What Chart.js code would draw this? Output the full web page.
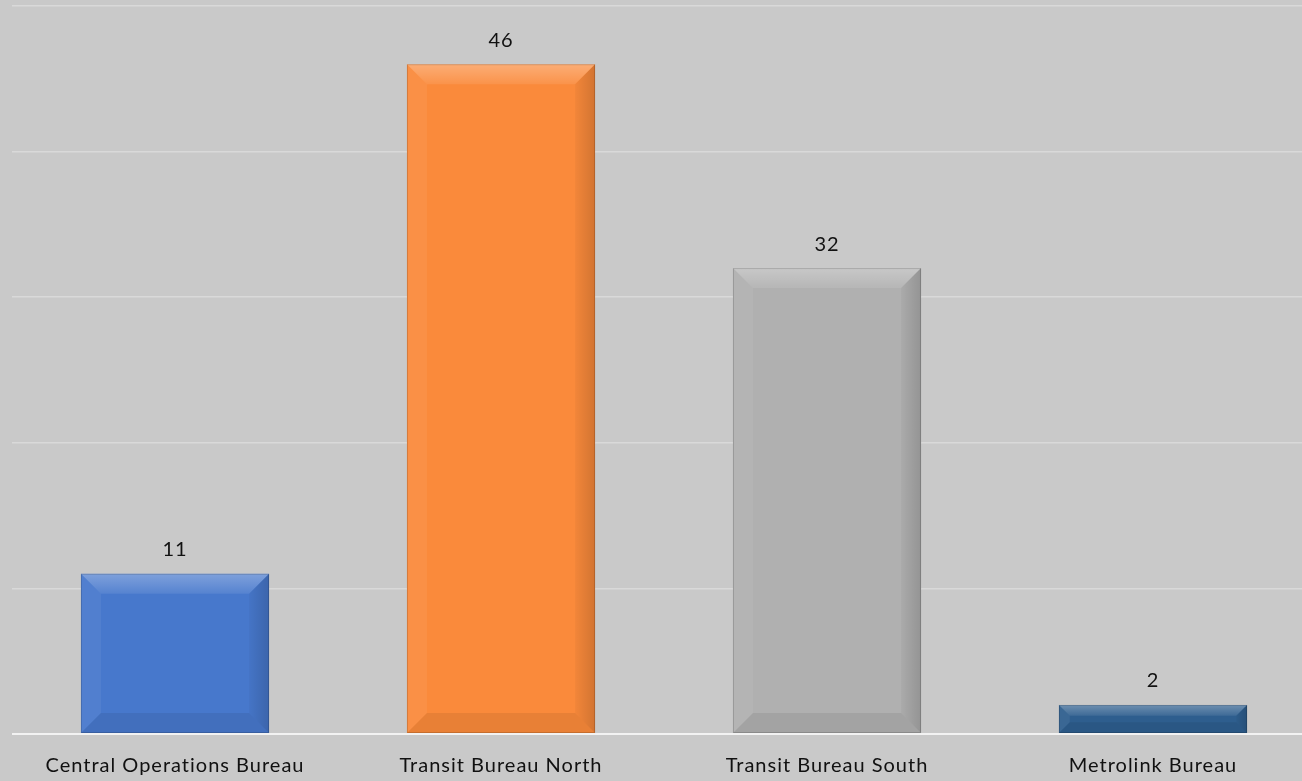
<!DOCTYPE html>
<html lang="en">
<head>
    <meta charset="UTF-8">
    <title>Bureau Counts</title>
    <script src="https://cdn.jsdelivr.net/npm/chart.js"></script>
    <style>
        html, body { margin: 0; padding: 0; background: #c9c9c9; overflow: hidden; }
        .wrap { width: 1316px; height: 781px; position: relative; }
    </style>
</head>
<body>
    <div class="wrap"><canvas id="bureauChart"></canvas></div>

    <script>
        const bureaus = ["Central Operations Bureau", "Transit Bureau North", "Transit Bureau South", "Metrolink Bureau"];
        const counts = [11, 46, 32, 2];
        const barColors = ["#4778cc", "#fa8a3b", "#b0b0b0", "#2e5e8e"];

        // bevelled look + value labels on top
        const bevelPlugin = {
            id: "bevel",
            beforeDraw(chart) {
                chart.ctx.letterSpacing = "1px";  // the original text is a bit wider
            },
            afterDatasetsDraw(chart) {
                const ctx = chart.ctx;
                const meta = chart.getDatasetMeta(0);
                meta.data.forEach(function (bar, i) {
                    const l = bar.x - bar.width / 2, r = bar.x + bar.width / 2;
                    const t = bar.y, b = bar.base;
                    const bv = Math.min(20, (b - t) / 2.6);
                    function poly(pts, fill) {
                        ctx.beginPath();
                        ctx.moveTo(pts[0][0], pts[0][1]);
                        for (let k = 1; k < pts.length; k++) ctx.lineTo(pts[k][0], pts[k][1]);
                        ctx.closePath();
                        ctx.fillStyle = fill;
                        ctx.fill();
                    }
                    ctx.save();
                    const topGrad = ctx.createLinearGradient(0, t, 0, t + bv);
                    topGrad.addColorStop(0, "rgba(255,255,255,0.30)");
                    topGrad.addColorStop(1, "rgba(255,255,255,0.08)");
                    poly([[l, t], [r, t], [r - bv, t + bv], [l + bv, t + bv]], topGrad);
                    poly([[l, t], [l + bv, t + bv], [l + bv, b - bv], [l, b]], "rgba(255,255,255,0.06)");
                    const rGrad = ctx.createLinearGradient(r - bv, 0, r, 0);
                    rGrad.addColorStop(0, "rgba(0,0,0,0.03)");
                    rGrad.addColorStop(1, "rgba(0,0,0,0.16)");
                    poly([[r, t], [r - bv, t + bv], [r - bv, b - bv], [r, b]], rGrad);
                    poly([[l, b], [l + bv, b - bv], [r - bv, b - bv], [r, b]], "rgba(0,0,0,0.07)");
                    ctx.strokeStyle = "rgba(0,0,0,0.15)";
                    ctx.lineWidth = 1;
                    ctx.strokeRect(l + 0.5, t + 0.5, bar.width - 1, b - t - 1);
                    ctx.fillStyle = "#111";
                    ctx.font = "20px Lato";
                    ctx.textAlign = "center";
                    ctx.textBaseline = "middle";
                    ctx.fillText(counts[i], bar.x, t - 24);
                    ctx.restore();
                });
            }
        };

        new Chart(document.getElementById("bureauChart").getContext("2d"), {
            type: "bar",
            data: {
                labels: bureaus,
                datasets: [{
                    data: counts,
                    backgroundColor: barColors,
                    borderWidth: 0,
                    barPercentage: 1,
                    categoryPercentage: 0.577
                }]
            },
            options: {
                responsive: true,
                maintainAspectRatio: false,
                animation: false,
                layout: { padding: { left: 12, top: 6, right: 0, bottom: 0 } },
                plugins: { legend: { display: false }, tooltip: { enabled: false } },
                scales: {
                    x: {
                        grid: { display: false },
                        border: { display: false },
                        ticks: { color: "#111", font: { family: "Lato", size: 20 }, padding: 12 },
                        afterFit: function (s) { s.height = 47; }
                    },
                    y: {
                        min: 0,
                        max: 50,
                        ticks: { display: false, stepSize: 10 },
                        border: { display: false },
                        grid: {
                            drawTicks: false,
                            lineWidth: function (c) { return c.tick.value === 0 ? 2 : 1.5; },
                            color: function (c) { return c.tick.value === 0 ? "#f2f2f2" : "#d9d9d9"; }
                        }
                    }
                }
            },
            plugins: [bevelPlugin]
        });
    </script>
</body>
</html>
